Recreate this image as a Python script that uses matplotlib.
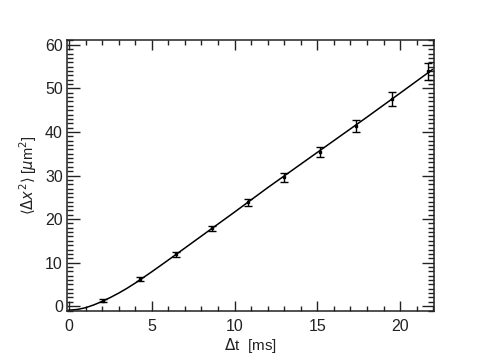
import matplotlib
matplotlib.use("Agg")
import matplotlib.pyplot as plt
from matplotlib.ticker import MultipleLocator

# data points with error bars
t_pts = [2.05, 4.29, 6.47, 8.64, 10.8, 12.97, 15.15, 17.32, 19.5, 21.7]
msd_pts = [1.3, 6.2, 11.9, 17.9, 23.9, 29.6, 35.4, 41.4, 47.6, 53.9]
msd_err = [0.3, 0.4, 0.5, 0.6, 0.8, 1.05, 1.15, 1.35, 1.6, 1.9]

# fitted curve
t_fit = [0, 0.5, 1, 1.5, 2, 2.5, 3, 3.5, 4, 5, 6, 8, 10, 12, 14, 16, 18, 20, 21.95]
msd_fit = [-0.9, -0.75, -0.35, 0.3, 1.1, 2.0, 3.0, 4.1, 5.3, 7.9, 10.6, 16.1,
           21.6, 27.2, 32.6, 38.0, 43.4, 48.9, 54.3]

plt.rcParams['font.family'] = ['Liberation Sans', 'DejaVu Sans']
plt.rcParams['mathtext.fontset'] = 'dejavusans'

fig = plt.figure(figsize=(4.9, 3.64), dpi=100)
ax = fig.add_axes([67/490, 1 - 311/364, (434-67)/490, (311-40)/364])

ax.plot(t_fit, msd_fit, color='black', lw=1.1)
ax.errorbar(t_pts, msd_pts, yerr=msd_err, fmt='s', ms=2, color='black',
            ecolor='black', elinewidth=1.0, capsize=3, capthick=1.0)

ax.set_xlim(-0.12, 22.05)
ax.set_ylim(-1.1, 61.1)
ax.xaxis.set_major_locator(MultipleLocator(5))
ax.xaxis.set_minor_locator(MultipleLocator(1))
ax.yaxis.set_major_locator(MultipleLocator(10))
ax.yaxis.set_minor_locator(MultipleLocator(1))
ax.tick_params(which='both', direction='in', top=True, right=True,
               labelsize=11.5, colors='#222222', width=1.0)
ax.tick_params(axis='x', which='major', length=7, pad=6)
ax.tick_params(axis='x', which='minor', length=3.5)
ax.tick_params(axis='y', which='major', length=9, pad=3)
ax.tick_params(axis='y', which='minor', length=4.5)
for s in ax.spines.values():
    s.set_linewidth(1.1)
    s.set_color('#222222')

ax.set_xlabel(r'$\Delta$t  [ms]', fontsize=11, color='#222222', labelpad=1)
ax.set_ylabel(r'$\langle\Delta x^2\rangle$ [$\mu$m$^2$]', fontsize=10.5,
              color='#222222', labelpad=4)

fig.savefig('out.png', dpi=100)
